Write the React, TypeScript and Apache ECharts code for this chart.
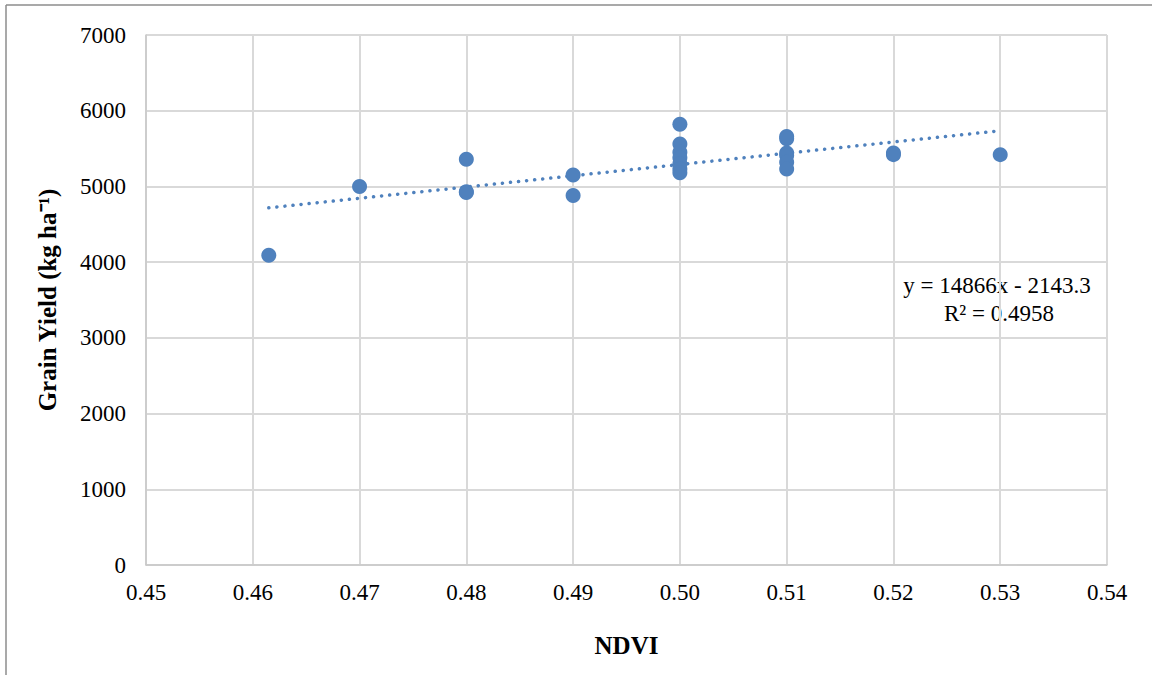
import React, { useEffect, useRef } from "react";
import * as echarts from "echarts";

const ndvi = [0.4615, 0.47, 0.48, 0.48, 0.48, 0.49, 0.49, 0.5, 0.5, 0.5, 0.5, 0.5, 0.5, 0.5, 0.51, 0.51, 0.51, 0.51, 0.51, 0.51, 0.52, 0.52, 0.53];
const grainYield = [4090, 5000, 5360, 4930, 4920, 5150, 4880, 5820, 5560, 5450, 5380, 5300, 5230, 5180, 5660, 5630, 5440, 5410, 5320, 5230, 5420, 5440, 5420];
const trendSlope = 14866;
const trendIntercept = -2143.3;
const equationText = "y = 14866x - 2143.3";
const r2Text = "R² = 0.4958";
const xTitle = "NDVI";
const yTitle = "Grain Yield (kg ha⁻¹)";

const FONT = "Liberation Serif";
const BLUE = "#4f81bd";

export default function App() {
  const ref = useRef<HTMLDivElement>(null);
  useEffect(() => {
    document.body.style.margin = "0";
    const chart = echarts.init(ref.current!, null, { renderer: "svg" });
    const xMin = Math.min(...ndvi);
    const xMax = Math.max(...ndvi);
    const trend = [
      [xMin, trendSlope * xMin + trendIntercept],
      [xMax, trendSlope * xMax + trendIntercept],
    ];
    chart.setOption({
      animation: false,
      backgroundColor: "#ffffff",
      textStyle: { fontFamily: FONT },
      grid: { left: 146, right: 46, top: 35, bottom: 110 },
      xAxis: {
        type: "value",
        min: 0.45,
        max: 0.54,
        interval: 0.01,
        name: xTitle,
        nameLocation: "middle",
        nameGap: 68,
        nameTextStyle: { fontFamily: FONT, fontSize: 25, fontWeight: "bold", color: "#000" },
        axisLine: { show: true, lineStyle: { color: "#c8c8c8", width: 1.5 } },
        axisTick: { show: false },
        axisLabel: {
          fontFamily: FONT,
          fontSize: 23,
          color: "#000",
          margin: 16,
          formatter: (v: number) => v.toFixed(2),
        },
        splitLine: { show: true, lineStyle: { color: "#d9d9d9", width: 2 } },
      },
      yAxis: {
        type: "value",
        min: 0,
        max: 7000,
        interval: 1000,
        name: yTitle,
        nameLocation: "middle",
        nameGap: 86,
        nameRotate: 90,
        nameTextStyle: { fontFamily: FONT, fontSize: 25, fontWeight: "bold", color: "#000" },
        axisLine: { show: true, lineStyle: { color: "#c8c8c8", width: 1.5 } },
        axisTick: { show: false },
        axisLabel: {
          fontFamily: FONT,
          fontSize: 23,
          color: "#000",
          margin: 20,
          formatter: (v: number) => String(Math.round(v)),
        },
        splitLine: { show: true, lineStyle: { color: "#d9d9d9", width: 2 } },
      },
      series: [
        {
          type: "line",
          data: trend,
          symbol: "none",
          lineStyle: { color: BLUE, width: 3.5, type: [0.1, 8], cap: "round" },
          z: 3,
        },
        {
          type: "scatter",
          data: ndvi.map((x, i) => [x, grainYield[i]]),
          symbol: "circle",
          symbolSize: 15,
          itemStyle: { color: BLUE, opacity: 1 },
          z: 4,
        },
      ],
      graphic: [
        { type: "line", shape: { x1: 6, y1: 5, x2: 1152, y2: 5 }, style: { stroke: "#8c8c8c", lineWidth: 1.5 } },
        { type: "line", shape: { x1: 6, y1: 5, x2: 6, y2: 675 }, style: { stroke: "#8c8c8c", lineWidth: 1.5 } },
        {
          type: "text",
          x: 997,
          y: 285,
          style: { text: equationText, fontFamily: FONT, fontSize: 23, fill: "#000", align: "center", verticalAlign: "middle" },
        },
        {
          type: "text",
          x: 999,
          y: 313,
          style: { text: r2Text, fontFamily: FONT, fontSize: 23, fill: "#000", align: "center", verticalAlign: "middle" },
        },
      ],
    });
    return () => chart.dispose();
  }, []);
  return <div ref={ref} style={{ width: 1153, height: 675 }} />;
}
